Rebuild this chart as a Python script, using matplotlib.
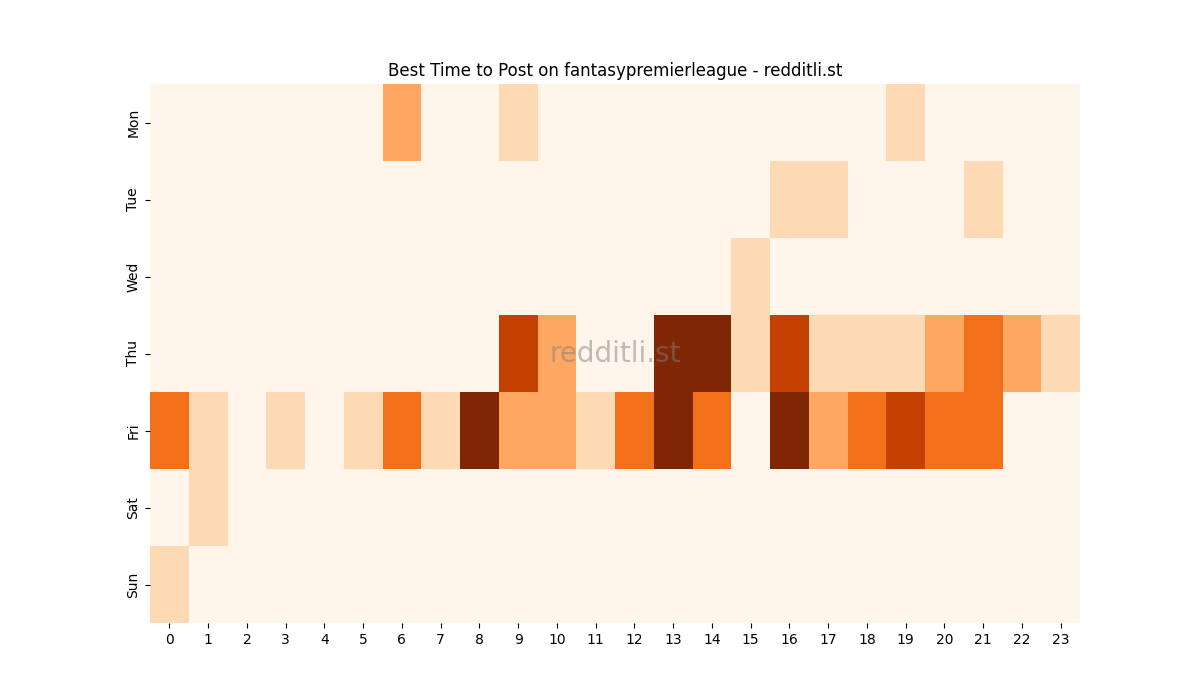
import pandas as pd
import matplotlib
matplotlib.use("Agg")
import matplotlib.pyplot as plt
import seaborn as sns

days = ["Mon", "Tue", "Wed", "Thu", "Fri", "Sat", "Sun"]
hours = list(range(24))

# post counts per day / hour
mon = [0, 0, 0, 0, 0, 0, 2, 0, 0, 1, 0, 0, 0, 0, 0, 0, 0, 0, 0, 1, 0, 0, 0, 0]
tue = [0, 0, 0, 0, 0, 0, 0, 0, 0, 0, 0, 0, 0, 0, 0, 0, 1, 1, 0, 0, 0, 1, 0, 0]
wed = [0, 0, 0, 0, 0, 0, 0, 0, 0, 0, 0, 0, 0, 0, 0, 1, 0, 0, 0, 0, 0, 0, 0, 0]
thu = [0, 0, 0, 0, 0, 0, 0, 0, 0, 4, 2, 0, 0, 5, 5, 1, 4, 1, 1, 1, 2, 3, 2, 1]
fri = [3, 1, 0, 1, 0, 1, 3, 1, 5, 2, 2, 1, 3, 5, 3, 0, 5, 2, 3, 4, 3, 3, 0, 0]
sat = [0, 1, 0, 0, 0, 0, 0, 0, 0, 0, 0, 0, 0, 0, 0, 0, 0, 0, 0, 0, 0, 0, 0, 0]
sun = [1, 0, 0, 0, 0, 0, 0, 0, 0, 0, 0, 0, 0, 0, 0, 0, 0, 0, 0, 0, 0, 0, 0, 0]

df = pd.DataFrame([mon, tue, wed, thu, fri, sat, sun], index=days, columns=hours)

fig, ax = plt.subplots(figsize=(12, 7), dpi=100)
sns.heatmap(df, cmap="Oranges", cbar=False, ax=ax)
ax.set_title("Best Time to Post on fantasypremierleague - redditli.st")

# watermark
ax.text(0.5, 0.5, "redditli.st", transform=ax.transAxes, fontsize=20,
        color="gray", alpha=0.5, ha="center", va="center")

plt.savefig("out.png")
